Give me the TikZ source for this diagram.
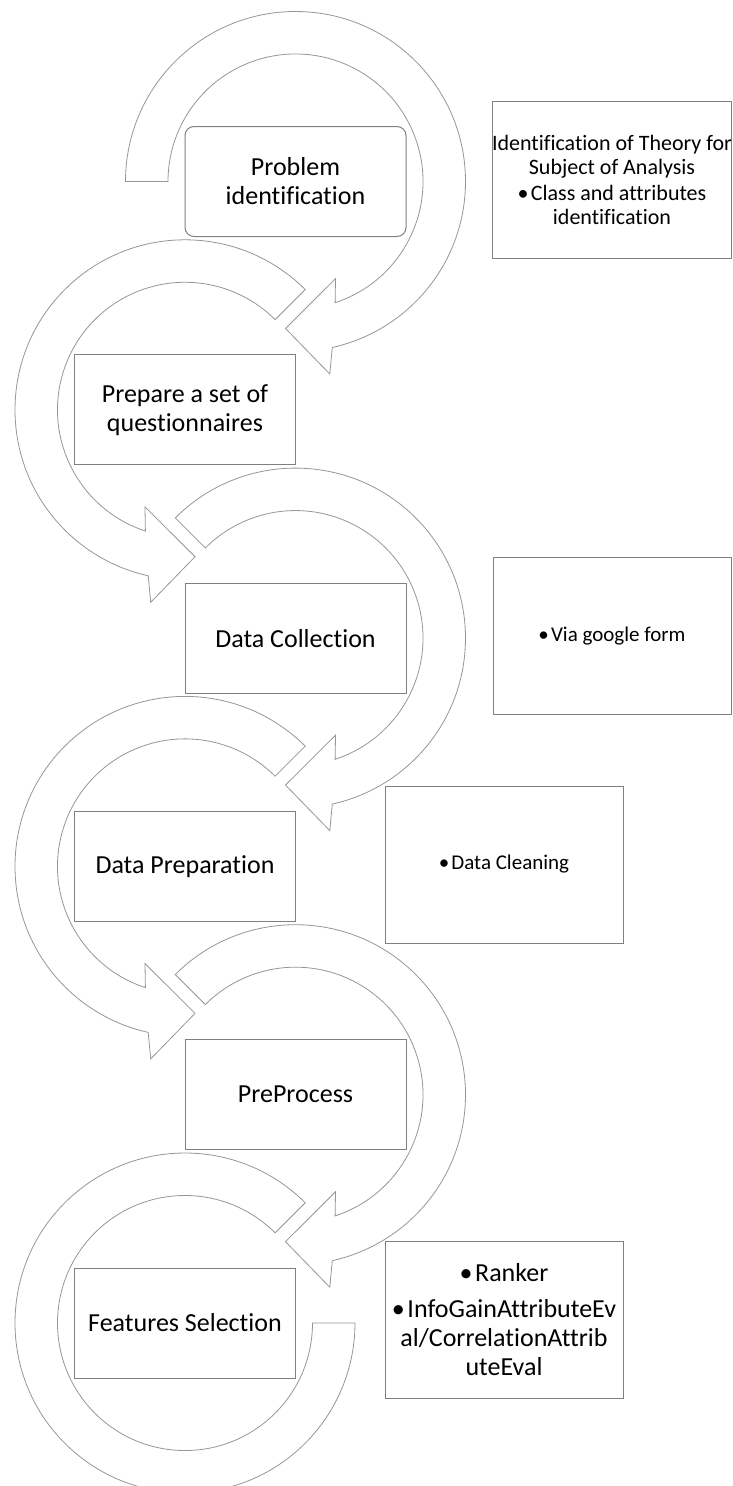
\documentclass[tikz,border=0pt]{standalone}
\usepackage{fontspec}
\setmainfont{Carlito}[RawFeature={-liga}]
\definecolor{arrgray}{RGB}{150,150,150}
\definecolor{boxgray}{RGB}{128,128,128}
\begin{document}
\begin{tikzpicture}[x=1pt,y=1pt,
  arr/.style={draw=arrgray, line width=0.8pt, fill=white, line join=miter},
  mainbox/.style={draw=boxgray, line width=1pt, fill=white, minimum width=221pt, minimum height=110pt, align=center, font=\fontsize{26}{29}\selectfont, inner sep=0pt},
  sidebox/.style={draw=boxgray, line width=1pt, fill=white, minimum width=238pt, minimum height=157pt, align=center, inner sep=0pt}]
\useasboundingbox (0,0) rectangle (732,-1486);
\coordinate (c1) at (295.5,-181.5);
\coordinate (c2) at (185,-409.8);
\coordinate (c3) at (295.5,-638.1);
\coordinate (c4) at (185,-866.4);
\coordinate (c5) at (295.5,-1094.7);
\coordinate (c6) at (185,-1323);
% circular arrows
\draw[arr, shift={(c1)}] (180:170) arc[start angle=180, end angle=-77.5, radius=170] -- (-79.9:195.5) -- (-93.9:147.3) -- (-67.6:105) -- (-71.9:127.5) arc[start angle=-71.9, end angle=180, radius=127.5] -- cycle;
\draw[arr, shift={(c2)}] (45:170) arc[start angle=45, end angle=257.5, radius=170] -- (259.9:195.5) -- (273.9:147.3) -- (247.6:105) -- (251.9:127.5) arc[start angle=251.9, end angle=45, radius=127.5] -- cycle;
\draw[arr, shift={(c3)}] (135:170) arc[start angle=135, end angle=-77.5, radius=170] -- (-79.9:195.5) -- (-93.9:147.3) -- (-67.6:105) -- (-71.9:127.5) arc[start angle=-71.9, end angle=135, radius=127.5] -- cycle;
\draw[arr, shift={(c4)}] (45:170) arc[start angle=45, end angle=257.5, radius=170] -- (259.9:195.5) -- (273.9:147.3) -- (247.6:105) -- (251.9:127.5) arc[start angle=251.9, end angle=45, radius=127.5] -- cycle;
\draw[arr, shift={(c5)}] (135:170) arc[start angle=135, end angle=-77.5, radius=170] -- (-79.9:195.5) -- (-93.9:147.3) -- (-67.6:105) -- (-71.9:127.5) arc[start angle=-71.9, end angle=135, radius=127.5] -- cycle;
\draw[arr, shift={(c6)}] (45:170) arc[start angle=45, end angle=360, radius=170] -- (0:127.5) arc[start angle=360, end angle=45, radius=127.5] -- cycle;
% step boxes
\node[mainbox, rounded corners=9pt] (b1) at (c1) {Problem\\identification};
\node[mainbox] (b2) at (c2) {Prepare a set of\\questionnaires};
\node[mainbox] (b3) at (c3) {Data Collection};
\node[mainbox] (b4) at (c4) {Data Preparation};
\node[mainbox] (b5) at (c5) {PreProcess};
\node[mainbox] (b6) at (c6) {Features Selection};
% side boxes
\node[sidebox, font=\fontsize{22}{24}\selectfont] (r1) at (612,-180) {Identification of Theory for\\Subject of Analysis\\[2pt]•\hspace{0.1em}Class and attributes\\identification};
\node[sidebox, font=\fontsize{21}{24}\selectfont] (r2) at (612,-636) {•\hspace{0.1em}Via google form};
\node[sidebox, font=\fontsize{21}{24}\selectfont] (r3) at (504,-864.5) {•\hspace{0.1em}Data Cleaning};
\node[sidebox, font=\fontsize{26}{29}\selectfont] (r4) at (504,-1320) {•\hspace{0.1em}Ranker\\[7pt]•\hspace{0.1em}InfoGainAttributeEv\\al/CorrelationAttrib\\uteEval};
\end{tikzpicture}
\end{document}
